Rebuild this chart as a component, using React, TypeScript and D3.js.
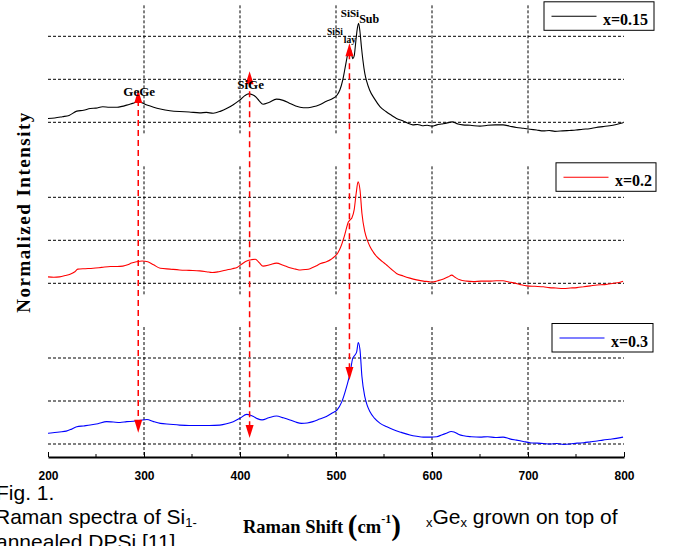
import React, { useEffect, useRef } from "react";
import * as d3 from "d3";

const seriesLabels = ["x=0.15", "x=0.2", "x=0.3"];
const seriesColors = ["#000000", "#ff0000", "#0000ff"];

// x = 0.15 (black)
const shift015 = [200, 207, 215, 222, 230, 237, 244, 250, 257, 264, 272, 277, 282, 288, 294, 303, 310, 317, 327, 337, 347, 358, 365, 372, 380, 386, 393, 400, 405, 409, 413, 416, 420, 424, 430, 438, 445, 452, 458, 466, 471, 476, 483, 490, 497, 501, 504, 507, 509, 511, 513, 514.5, 516, 517.5, 519, 520.5, 522, 523.5, 525, 526.5, 528, 530, 532, 535, 540, 546, 552, 558, 563, 570, 575, 580, 585, 590, 595, 600, 605, 610, 615, 621, 627, 632, 640, 650, 658, 666, 674, 681, 688, 695, 702, 709, 716, 722, 728, 736, 743, 750, 757, 764, 771, 778, 785, 792, 799];
const int015 = [0.09, 0.1, 0.13, 0.16, 0.26, 0.28, 0.32, 0.33, 0.36, 0.35, 0.35, 0.37, 0.4, 0.44, 0.48, 0.4, 0.35, 0.31, 0.27, 0.25, 0.24, 0.22, 0.23, 0.21, 0.26, 0.32, 0.41, 0.52, 0.62, 0.66, 0.64, 0.6, 0.5, 0.42, 0.46, 0.54, 0.51, 0.44, 0.38, 0.34, 0.34, 0.36, 0.41, 0.49, 0.56, 0.63, 0.75, 0.98, 1.21, 1.45, 1.67, 1.72, 1.62, 1.48, 1.55, 1.85, 2.15, 2.3, 2.1, 1.75, 1.45, 1.14, 0.95, 0.75, 0.55, 0.36, 0.25, 0.16, 0.09, 0.03, -0.02, -0.06, -0.05, -0.08, -0.07, -0.09, -0.06, -0.04, -0.02, 0.01, -0.04, -0.06, -0.07, -0.09, -0.07, -0.06, -0.06, -0.09, -0.12, -0.14, -0.16, -0.18, -0.2, -0.19, -0.21, -0.2, -0.19, -0.18, -0.16, -0.15, -0.12, -0.1, -0.08, -0.05, -0.01];

// x = 0.2 (red)
const shift02 = [200, 206, 212, 218, 223, 228, 231, 239, 247, 256, 265, 272, 278, 283, 287, 292, 298, 304, 310, 317, 327, 337, 347, 358, 365, 371, 378, 386, 392, 397, 402, 407, 412, 416, 420, 424, 431, 438, 445, 452, 458, 463, 468, 473, 479, 484, 490, 495, 499, 502, 505, 509, 513, 515, 516.5, 519, 521, 523, 525, 527, 530, 533, 535.5, 539, 542.5, 548, 553, 558, 563, 570, 577, 584, 591, 596, 600, 606, 612, 617, 620.5, 624, 629, 636, 643, 651, 660, 667, 674, 680, 685, 692, 699, 707, 716, 722, 729, 737, 744, 751, 758, 765, 772, 780, 789, 795, 799];
const int02 = [0.15, 0.14, 0.15, 0.18, 0.21, 0.27, 0.33, 0.34, 0.35, 0.37, 0.39, 0.39, 0.4, 0.43, 0.47, 0.5, 0.52, 0.5, 0.43, 0.35, 0.33, 0.31, 0.3, 0.29, 0.27, 0.25, 0.27, 0.31, 0.34, 0.37, 0.45, 0.52, 0.55, 0.56, 0.48, 0.4, 0.43, 0.47, 0.42, 0.36, 0.33, 0.31, 0.32, 0.34, 0.4, 0.46, 0.5, 0.56, 0.63, 0.71, 0.85, 1.12, 1.43, 1.48, 1.52, 1.72, 2.09, 2.36, 2.17, 1.63, 1.2, 0.98, 0.85, 0.72, 0.62, 0.51, 0.42, 0.32, 0.23, 0.17, 0.12, 0.08, 0.05, 0.04, 0.03, 0.06, 0.1, 0.15, 0.19, 0.14, 0.08, 0.05, 0.04, 0.05, 0.05, 0.06, 0.06, 0.03, 0.01, -0.03, -0.06, -0.07, -0.08, -0.1, -0.11, -0.12, -0.11, -0.1, -0.08, -0.06, -0.04, -0.03, 0.0, 0.02, 0.05];

// x = 0.3 (blue)
const shift03 = [200, 205, 212, 219, 224, 230, 237, 244, 252, 261, 268, 275, 282, 289, 296, 303, 310, 317, 327, 337, 347, 358, 368, 379, 386, 393, 400, 407, 411, 414, 418, 423, 430, 438, 445, 452, 458, 464, 470, 476, 483, 490, 496, 501, 506, 511, 514.6, 517.4, 519.8, 521.6, 523.2, 525, 527, 530, 532.5, 535.4, 540, 546, 553, 560, 568, 577, 584, 591, 598, 605, 610, 615, 620, 623, 628, 633, 641, 650, 658, 666, 674, 681, 688, 695, 702, 710, 716, 723, 730, 737, 744, 751, 758, 765, 772, 778, 785, 792, 799];
const int03 = [0.25, 0.26, 0.28, 0.3, 0.34, 0.4, 0.42, 0.44, 0.47, 0.52, 0.51, 0.5, 0.52, 0.53, 0.55, 0.57, 0.52, 0.48, 0.46, 0.44, 0.43, 0.43, 0.43, 0.44, 0.47, 0.52, 0.6, 0.69, 0.67, 0.64, 0.59, 0.56, 0.61, 0.65, 0.61, 0.56, 0.51, 0.48, 0.49, 0.52, 0.58, 0.64, 0.72, 0.79, 0.98, 1.33, 1.64, 1.99, 2.07, 2.15, 2.36, 2.19, 1.57, 1.1, 0.9, 0.75, 0.6, 0.48, 0.4, 0.33, 0.27, 0.21, 0.18, 0.16, 0.16, 0.17, 0.21, 0.25, 0.29, 0.28, 0.22, 0.19, 0.17, 0.16, 0.17, 0.15, 0.16, 0.12, 0.09, 0.06, 0.03, 0.02, 0.01, 0.0, 0.01, -0.01, 0.0, 0.02, 0.03, 0.05, 0.07, 0.09, 0.11, 0.13, 0.16];

const seriesShifts = [shift015, shift02, shift03];
const seriesValues = [int015, int02, int03];

const xTicks = [200, 300, 400, 500, 600, 700, 800];
const xMinorTicks = [250, 350, 450, 550, 650, 750];
const gridX = [300, 400, 500, 600, 700];
const gridY = [0, 1, 2];

// red peak markers: shift, arrow tip in top panel, arrow tip in bottom panel
const markerShift = [294, 410, 514];
const markerTop = [0.75, 1.19, 1.84];
const markerBottom = [0.26, 0.14, 1.49];

const W = 676;
const H = 546;
const plotLeft = 48;
const plotRight = 624;
const panelBase = [122.3, 283.3, 444];
const gridStep = 43;
const axisY = 457;
const legendX = [544, 556, 552];

const serif = "'Liberation Serif', 'Times New Roman', serif";
const sans = "'Liberation Sans', Arial, sans-serif";

const x = d3.scaleLinear().domain([200, 800]).range([plotLeft, plotRight]);
const yScales = panelBase.map((b) =>
  d3.scaleLinear().domain([0, 2]).range([b, b - 2 * gridStep])
);

const App: React.FC = () => {
  const axisRef = useRef<SVGGElement>(null);

  useEffect(() => {
    const g = d3.select(axisRef.current);
    g.selectAll("*").remove();
    const axis = d3
      .axisBottom(x)
      .tickValues(xTicks)
      .tickSizeInner(-5)
      .tickSizeOuter(0)
      .tickPadding(14.5)
      .tickFormat(d3.format("d"));
    g.call(axis);
    g.select(".domain").attr("stroke-width", 2).attr("stroke", "#000");
    g.selectAll(".tick line").attr("stroke", "#000").attr("stroke-width", 1);
    g.selectAll(".tick text")
      .attr("font-family", sans)
      .attr("font-weight", "bold")
      .attr("font-size", 12)
      .attr("fill", "#000");
    g.selectAll(".minor")
      .data(xMinorTicks)
      .join("line")
      .attr("class", "minor")
      .attr("x1", (d) => x(d))
      .attr("x2", (d) => x(d))
      .attr("y1", 0)
      .attr("y2", -3)
      .attr("stroke", "#000");
  }, []);

  const line = (si: number) =>
    d3
      .line<number>()
      .x((d) => x(d))
      .y((_, i) => yScales[si](seriesValues[si][i]))
      .curve(d3.curveMonotoneX)(seriesShifts[si]) ?? "";

  return (
    <svg
      width={W}
      height={H}
      style={{ position: "absolute", left: 0, top: 0, background: "#fff" }}
    >
      {/* panels: grids */}
      {yScales.map((y, pi) => (
        <g key={"grid" + pi}>
          {gridY.map((v) => (
            <line
              key={"h" + v}
              x1={plotLeft}
              x2={plotRight}
              y1={y(v)}
              y2={y(v)}
              stroke="#000"
              strokeWidth={1}
              strokeDasharray="3,2"
            />
          ))}
          {gridX.map((v) => (
            <line
              key={"v" + v}
              x1={x(v)}
              x2={x(v)}
              y1={y(2.72)}
              y2={pi === 2 ? axisY : y(-0.3)}
              stroke="#000"
              strokeWidth={1}
              strokeDasharray="3,2"
            />
          ))}
        </g>
      ))}

      {/* spectra */}
      {seriesLabels.map((_, si) => (
        <path
          key={"s" + si}
          d={line(si)}
          fill="none"
          stroke={seriesColors[si]}
          strokeWidth={1.1}
        />
      ))}

      {/* legends */}
      {seriesLabels.map((lab, si) => {
        const top = panelBase[si] - 120.5;
        const lx = legendX[si];
        const w = 656 - lx - (si === 0 ? 2 : si === 2 ? 3 : 0);
        return (
          <g key={"lg" + si}>
            <rect x={lx} y={top} width={w} height={28.5} fill="#fff" stroke="#000" strokeWidth={1} />
            <line x1={lx + 7.5} x2={lx + 52.5} y1={top + 14.5} y2={top + 14.5} stroke={seriesColors[si]} strokeWidth={1.1} />
            <text x={lx + 59} y={top + 23} fontFamily={serif} fontWeight="bold" fontSize={16} fill="#000">
              {lab}
            </text>
          </g>
        );
      })}

      {/* red peak markers */}
      {markerShift.map((s, i) => {
        const xx = x(s);
        const yt = yScales[0](markerTop[i]);
        const yb = yScales[2](markerBottom[i]);
        return (
          <g key={"m" + i}>
            <line x1={xx} x2={xx} y1={yt + 10} y2={yb - 10} stroke="#ff0000" strokeWidth={1.5} strokeDasharray="6,4" />
            <path d={`M${xx},${yt} L${xx - 4},${yt + 13} L${xx + 4},${yt + 13} Z`} fill="#ff0000" />
            <path d={`M${xx},${yb} L${xx - 4},${yb - 13} L${xx + 4},${yb - 13} Z`} fill="#ff0000" />
          </g>
        );
      })}

      {/* peak labels */}
      <g fontFamily={serif} fontWeight="bold" fill="#000">
        <text x={x(295)} y={yScales[0](0.61)} fontSize={13} textAnchor="middle">GeGe</text>
        <text x={x(411)} y={yScales[0](0.77)} fontSize={13} textAnchor="middle">SiGe</text>
        <text x={x(505)} y={yScales[0](2.45)} fontSize={11}>
          SiSi<tspan fontSize={12} dy={6}>Sub</tspan>
        </text>
        <text x={x(490.6)} y={yScales[0](2.03)} fontSize={9.5}>
          SiSi<tspan dx={1} dy={8}>lay</tspan>
        </text>
      </g>

      {/* x axis */}
      <g ref={axisRef} transform={`translate(0,${axisY})`} />

      {/* axis titles */}
      <text
        transform="translate(30,212) rotate(-90)"
        textAnchor="middle"
        fontFamily={serif}
        fontWeight="bold"
        fontSize={19}
        letterSpacing={1.5}
        fill="#000"
      >
        Normalized Intensity
      </text>
      <text x={243} y={533} fontFamily={serif} fontWeight="bold" fontSize={18.5} fill="#000">
        Raman Shift{" "}
        <tspan fontSize={29} dy={2}>(</tspan>
        <tspan dy={-2}>cm</tspan>
        <tspan fontSize={12} dy={-10}>-1</tspan>
        <tspan fontSize={29} dy={12}>)</tspan>
      </text>

      {/* figure caption overlapping the plot */}
      <g fontFamily={sans} fontSize={21} fill="#000">
        <text x={-4} y={500}>Fig. 1.</text>
        <text x={-5} y={524}>
          Raman spectra of Si<tspan fontSize={13} dy={3}>1-</tspan>
        </text>
        <text x={-4} y={549}>annealed DPSi [11].</text>
        <text x={426} y={524}>
          <tspan fontSize={13} dy={3}>x</tspan>
          <tspan dy={-3}>Ge</tspan>
          <tspan fontSize={13} dy={3}>x</tspan>
          <tspan dy={-3}> grown on top of</tspan>
        </text>
      </g>
    </svg>
  );
};

export default App;
